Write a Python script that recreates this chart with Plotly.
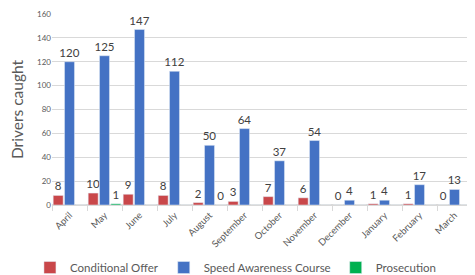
import plotly.graph_objects as go

months = ["April", "May", "June", "July", "August", "September", "October",
          "November", "December", "January", "February", "March"]
conditional_offer = [8, 10, 9, 8, 2, 3, 7, 6, 0, 1, 1, 0]
speed_awareness = [120, 125, 147, 112, 50, 64, 37, 54, 4, 4, 17, 13]
prosecution = [0, 1, 0, 0, 0, 0, 0, 0, 0, 0, 0, 0]
prosecution_labels = ["", "1", "", "", "0", "", "", "", "", "", "", ""]

FONT = "Lato, Calibri, Carlito, sans-serif"
label_font = dict(family=FONT, size=11.5, color="#404040")

fig = go.Figure()
fig.add_trace(go.Bar(
    x=months, y=conditional_offer, name="Conditional Offer",
    marker_color="#C9474A",
    text=[str(v) for v in conditional_offer], textposition="outside",
    textfont=label_font, constraintext="none", cliponaxis=False,
))
fig.add_trace(go.Bar(
    x=months, y=speed_awareness, name="Speed Awareness Course",
    marker_color="#4472C4",
    text=[str(v) for v in speed_awareness], textposition="outside",
    textfont=label_font, constraintext="none", cliponaxis=False,
))
fig.add_trace(go.Bar(
    x=months, y=prosecution, name="Prosecution",
    marker_color="#00B050",
    text=prosecution_labels, textposition="outside",
    textfont=label_font, constraintext="none", cliponaxis=False,
))

# page body has a default 8px margin, so the figure is sized to fit inside the window
fig.update_layout(
    width=467, height=267,
    margin=dict(l=44, r=3, t=6, b=70),
    paper_bgcolor="white", plot_bgcolor="white",
    barmode="group", bargap=0.03, bargroupgap=0.12,
    font=dict(family=FONT, color="#595959"),
    legend=dict(orientation="h", xref="container", x=0.047, xanchor="left",
                yref="container", y=0.028, yanchor="middle",
                font=dict(size=11.5, color="#595959"), traceorder="normal",
                itemwidth=30),
    showlegend=True,
)
fig.update_yaxes(
    range=[0, 160], dtick=20, showgrid=True, gridcolor="#D9D9D9", gridwidth=1,
    zeroline=True, zerolinecolor="#D9D9D9",
    tickfont=dict(size=8, color="#595959"), automargin=False,
    title=dict(text="Drivers caught", font=dict(size=15.5, color="#595959")),
    showline=False,
)
fig.update_xaxes(
    tickangle=-45, tickfont=dict(size=9.5, color="#595959"), automargin=False,
    showline=True, linecolor="#D9D9D9", ticks="outside", tickson="boundaries",
    ticklen=5, tickcolor="#D9D9D9",
)

fig.write_html("out.html")
